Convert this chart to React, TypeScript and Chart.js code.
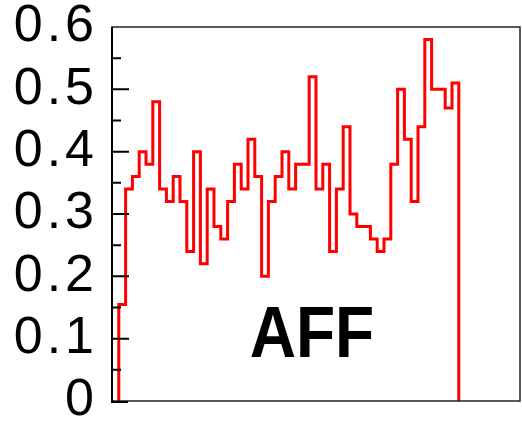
import React, { useEffect, useRef } from 'react';
import { Chart, registerables } from 'chart.js';

Chart.register(...registerables);

// Histogram contents (bins 1..50 of a 60-bin axis)
const binValues = [
  0.155, 0.34, 0.36, 0.40, 0.38, 0.48, 0.34, 0.32, 0.36, 0.32,
  0.24, 0.40, 0.22, 0.34, 0.28, 0.26, 0.32, 0.38, 0.34, 0.42,
  0.36, 0.20, 0.32, 0.36, 0.40, 0.34, 0.38, 0.38, 0.52, 0.34,
  0.38, 0.24, 0.34, 0.44, 0.30, 0.28, 0.28, 0.26, 0.24, 0.26,
  0.38, 0.50, 0.42, 0.32, 0.44, 0.58, 0.50, 0.50, 0.47, 0.51,
];
const firstBin = 1;
const axisBins = 60;
const yTickLabels = ['0', '0.1', '0.2', '0.3', '0.4', '0.5', '0.6'];
const majorTickValues = [0.1, 0.2, 0.3, 0.4, 0.5];
const minorTickValues = [0.05, 0.15, 0.25, 0.35, 0.45, 0.55];
const labelText = 'AFF';

export default function App() {
  const canvasRef = useRef<HTMLCanvasElement | null>(null);

  useEffect(() => {
    const canvas = canvasRef.current;
    if (!canvas) return;

    const points = [
      { x: firstBin, y: 0 },
      ...binValues.map((v, i) => ({ x: firstBin + i, y: v })),
      { x: firstBin + binValues.length, y: 0 },
    ];

    const spacingPlugin = {
      id: 'spacing',
      beforeLayout(chart: any) {
        chart.ctx.letterSpacing = '4px';
      },
      beforeDraw(chart: any) {
        chart.ctx.letterSpacing = '4px';
      },
    };

    const framePlugin = {
      id: 'frame',
      afterDraw(chart: any) {
        const { ctx, chartArea } = chart;
        const { left, top, right, bottom } = chartArea;
        const y = chart.scales.y;
        ctx.save();
        ctx.letterSpacing = '0px';
        // frame
        ctx.strokeStyle = '#222';
        ctx.lineWidth = 1.5;
        ctx.strokeRect(left, top, right - left, bottom - top);
        ctx.strokeStyle = '#000';
        ctx.lineWidth = 2;
        ctx.beginPath();
        ctx.moveTo(left, top);
        ctx.lineTo(left, bottom + 1);
        ctx.lineTo(left + 16, bottom + 1);
        ctx.stroke();
        // ticks
        ctx.beginPath();
        majorTickValues.forEach((v) => {
          const py = y.getPixelForValue(v);
          ctx.moveTo(left, py);
          ctx.lineTo(left + 17, py);
        });
        minorTickValues.forEach((v) => {
          const py = y.getPixelForValue(v);
          ctx.moveTo(left, py);
          ctx.lineTo(left + 9, py);
        });
        ctx.stroke();
        // label
        const lx = left + (right - left) * 0.49;
        const ly = y.getPixelForValue(0.0705);
        ctx.translate(lx, ly);
        ctx.scale(0.89, 1);
        ctx.fillStyle = '#000';
        ctx.font = 'bold 72px "Liberation Sans", Arial, sans-serif';
        ctx.textAlign = 'center';
        ctx.textBaseline = 'alphabetic';
        ctx.fillText(labelText, 0, 0);
        ctx.restore();
      },
    };

    const chart = new Chart(canvas, {
      type: 'line',
      data: {
        datasets: [
          {
            data: points,
            stepped: 'before',
            borderColor: '#ff0000',
            borderWidth: 3,
            pointRadius: 0,
            fill: false,
          },
        ],
      },
      options: {
        animation: false,
        responsive: false,
        events: [],
        layout: { padding: { left: 0, top: 27, right: 2, bottom: 26 } },
        plugins: {
          legend: { display: false },
          tooltip: { enabled: false },
          title: { display: false },
        },
        scales: {
          x: {
            type: 'linear',
            min: 0,
            max: axisBins,
            display: false,
          },
          y: {
            type: 'linear',
            min: 0,
            max: 0.6,
            afterFit(scale: any) {
              scale.width = 112;
            },
            border: { display: false },
            grid: {
              display: true,
              drawOnChartArea: false,
              drawTicks: true,
              tickLength: 14,
              color: 'rgba(0,0,0,0)',
            },
            ticks: {
              stepSize: 0.1,
              padding: 0,
              color: '#000',
              font: { family: '"Liberation Sans", Arial, sans-serif', size: 52, lineHeight: 1 },
              callback: (_v: any, i: number) => yTickLabels[i],
            },
          },
        },
      },
      plugins: [spacingPlugin, framePlugin],
    });

    return () => chart.destroy();
  }, []);

  return (
    <div style={{ position: 'fixed', left: 0, top: 0, width: 522, height: 427, background: '#fff' }}>
      <canvas ref={canvasRef} width={522} height={427} />
    </div>
  );
}
